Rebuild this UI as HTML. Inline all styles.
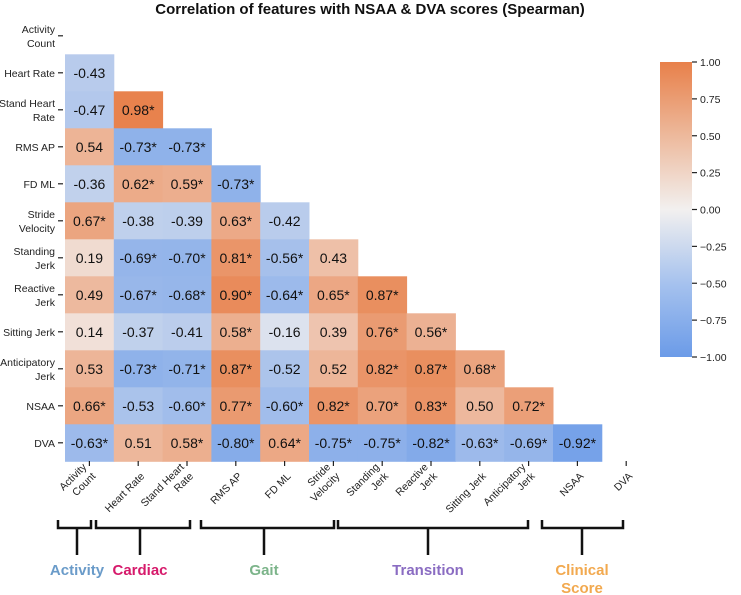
<!DOCTYPE html>
<html><head><meta charset="utf-8"><style>
body{margin:0;background:#fff}
svg{display:block;font-family:"Liberation Sans",sans-serif}
</style></head><body>
<svg id="chart" width="741" height="595" viewBox="0 0 741 595">
<defs><linearGradient id="cbg" x1="0" y1="1" x2="0" y2="0">
<stop offset="0" stop-color="#6b9be8"/><stop offset="0.25" stop-color="#a6c2ee"/><stop offset="0.5" stop-color="#f2f0ef"/><stop offset="0.75" stop-color="#edb99c"/><stop offset="1" stop-color="#e8804a"/></linearGradient></defs>
<text x="370" y="14" text-anchor="middle" font-size="15" font-weight="bold" fill="#111">Correlation of features with NSAA &amp; DVA scores (Spearman)</text>
<g id="cells"></g><g id="yl"></g><g id="xl"></g><g id="cb"></g><g id="groups"></g>
</svg>
<script>
const features=["Activity Count","Heart Rate","Stand Heart Rate","RMS AP","FD ML","Stride Velocity","Standing Jerk","Reactive Jerk","Sitting Jerk","Anticipatory Jerk","NSAA","DVA"];
const yLabelLines=[["Activity","Count"],["Heart Rate"],["Stand Heart","Rate"],["RMS AP"],["FD ML"],["Stride","Velocity"],["Standing","Jerk"],["Reactive","Jerk"],["Sitting Jerk"],["Anticipatory","Jerk"],["NSAA"],["DVA"]];
const corrValues=[[],
[-0.43],
[-0.47,0.98],
[0.54,-0.73,-0.73],
[-0.36,0.62,0.59,-0.73],
[0.67,-0.38,-0.39,0.63,-0.42],
[0.19,-0.69,-0.70,0.81,-0.56,0.43],
[0.49,-0.67,-0.68,0.90,-0.64,0.65,0.87],
[0.14,-0.37,-0.41,0.58,-0.16,0.39,0.76,0.56],
[0.53,-0.73,-0.71,0.87,-0.52,0.52,0.82,0.87,0.68],
[0.66,-0.53,-0.60,0.77,-0.60,0.82,0.70,0.83,0.50,0.72],
[-0.63,0.51,0.58,-0.80,0.64,-0.75,-0.75,-0.82,-0.63,-0.69,-0.92]];
const significant=[[],
[0],
[0,1],
[0,1,1],
[0,1,1,1],
[1,0,0,1,0],
[0,1,1,1,1,0],
[0,1,1,1,1,1,1],
[0,0,0,1,0,0,1,1],
[0,1,1,1,0,0,1,1,1],
[1,0,1,1,1,1,1,1,0,1],
[1,0,1,1,1,1,1,1,1,1,1]];
const cbTicks=[1,0.75,0.5,0.25,0,-0.25,-0.5,-0.75,-1];
const groupNames=["Activity","Cardiac","Gait","Transition","Clinical Score"];

const NS="http://www.w3.org/2000/svg";
function mk(t,a,p){const e=document.createElementNS(NS,t);for(const k in a)e.setAttribute(k,a[k]);p.appendChild(e);return e;}
const X0=65,Y0=17.3,CW=48.8,CH=37;
const xPos=i=>X0+i*CW, yPos=i=>Y0+i*CH;
const cbY=v=>62+(1-v)/2*295;
function color(v){
  const b=[107,155,232],w=[242,240,239],o=[232,128,74];
  const t=Math.abs(v),c=v<0?b:o;
  const r=w.map((x,k)=>Math.round(x+(c[k]-x)*t));
  return `rgb(${r[0]},${r[1]},${r[2]})`;
}
const cells=document.getElementById('cells');
corrValues.forEach((row,i)=>row.forEach((v,j)=>{
  const r=mk('rect',{x:xPos(j),y:yPos(i),width:CW+0.5,height:CH+0.5,fill:color(v)},cells);
  
  
  const t=mk('text',{x:xPos(j)+CW/2,y:yPos(i)+CH/2+5,'text-anchor':'middle','font-size':14,fill:'#111'},cells);
  t.textContent=v.toFixed(2)+(significant[i][j]?'*':'');
  
  
}));
const yl=document.getElementById('yl');
yLabelLines.forEach((lines,i)=>{
  const cy=yPos(i)+CH/2;
  mk('line',{x1:58,x2:63,y1:cy,y2:cy,stroke:'#222','stroke-width':1.2},yl);
  const t=mk('text',{x:55,y:cy+4-(lines.length-1)*7,'text-anchor':'end','font-size':10.5,fill:'#222'},yl);
  
  
  lines.forEach((l,k)=>{const s=mk('tspan',{x:55,dy:k?14:0},t);s.textContent=l;});
});
const xl=document.getElementById('xl');
yLabelLines.forEach((lines,i)=>{
  const cx=xPos(i)+CW/2;
  mk('line',{x1:cx,x2:cx,y1:461,y2:466,stroke:'#222','stroke-width':1.2},xl);
  const ax=cx+4,ay=474;
  const t=mk('text',{transform:`translate(${ax},${ay}) rotate(-45)`,'text-anchor':'end','font-size':10.5,fill:'#222'},xl);
  
  
  lines.forEach((l,k)=>{const s=mk('tspan',{x:0,y:(k-(lines.length-1))*13+4},t);s.textContent=l;});
});
const cb=document.getElementById('cb');
const bar=mk('rect',{x:660,y:62,width:32,height:295,fill:'url(#cbg)'},cb);


cbTicks.forEach(v=>{
  const y=cbY(v);
  mk('line',{x1:692,x2:697,y1:y,y2:y,stroke:'#222','stroke-width':1.2},cb);
  const t=mk('text',{x:700,y:y+4,'font-size':10.5,fill:'#222'},cb);
  t.textContent=(v<0?'\u2212':'')+Math.abs(v).toFixed(2);
  
  
});
const gDefs=[[58,91,77,'#6a9bc9'],[96,190,140,'#d61a6b'],[201,334,264,'#7cb48a'],[338,528,428,'#8a6cc2'],[542,623,582,'#f2a94f']];
const gg=document.getElementById('groups');
gDefs.forEach((d,i)=>{
  const [a,b,c,col]=d;
  mk('path',{d:`M${a},520 L${a},528 L${b},528 L${b},520 M${c},528 L${c},555`,stroke:'#111','stroke-width':2.5,fill:'none'},gg);
  const t=mk('text',{x:c,y:575,'text-anchor':'middle','font-size':15,'font-weight':'bold',fill:col},gg);
  
  
  groupNames[i].split(' ').forEach((w,k)=>{const s=mk('tspan',{x:c,dy:k?18:0},t);s.textContent=w;});
});
</script>
</body></html>
